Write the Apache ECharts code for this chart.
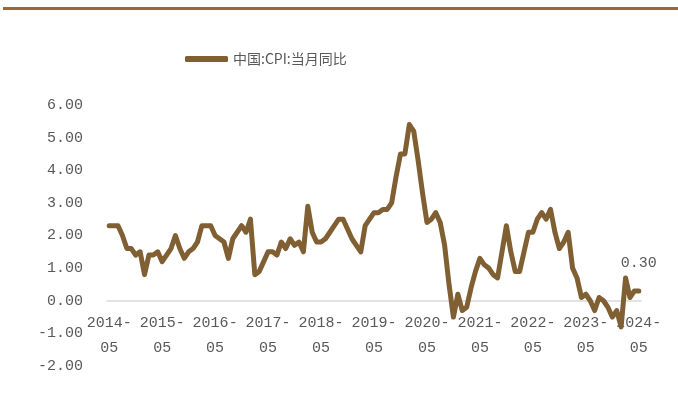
<!DOCTYPE html>
<html>
<head>
<meta charset="utf-8">
<script src="https://cdn.jsdelivr.net/npm/echarts@6/dist/echarts.min.js"></script>
<style>
html,body{margin:0;padding:0;background:#fff;}
#c{width:678px;height:410px;}
</style>
</head>
<body>
<div id="c"></div>
<script>
// Series: 中国:CPI:当月同比, monthly 2014-05 .. 2024-05
var startYear = 2014, startMonth = 5;
var cpi2014 = [2.3, 2.3, 2.3, 2.0, 1.6, 1.6, 1.4, 1.5];           // 2014-05..12
var cpi2015 = [0.8, 1.4, 1.4, 1.5, 1.2, 1.4, 1.6, 2.0, 1.6, 1.3, 1.5, 1.6];
var cpi2016 = [1.8, 2.3, 2.3, 2.3, 2.0, 1.9, 1.8, 1.3, 1.9, 2.1, 2.3, 2.1];
var cpi2017 = [2.5, 0.8, 0.9, 1.2, 1.5, 1.5, 1.4, 1.8, 1.6, 1.9, 1.7, 1.8];
var cpi2018 = [1.5, 2.9, 2.1, 1.8, 1.8, 1.9, 2.1, 2.3, 2.5, 2.5, 2.2, 1.9];
var cpi2019 = [1.7, 1.5, 2.3, 2.5, 2.7, 2.7, 2.8, 2.8, 3.0, 3.8, 4.5, 4.5];
var cpi2020 = [5.4, 5.2, 4.3, 3.3, 2.4, 2.5, 2.7, 2.4, 1.7, 0.5, -0.5, 0.2];
var cpi2021 = [-0.3, -0.2, 0.4, 0.9, 1.3, 1.1, 1.0, 0.8, 0.7, 1.5, 2.3, 1.5];
var cpi2022 = [0.9, 0.9, 1.5, 2.1, 2.1, 2.5, 2.7, 2.5, 2.8, 2.1, 1.6, 1.8];
var cpi2023 = [2.1, 1.0, 0.7, 0.1, 0.2, 0.0, -0.3, 0.1, 0.0, -0.2, -0.5, -0.3];
var cpi2024 = [-0.8, 0.7, 0.1, 0.3, 0.3];                          // 2024-01..05
var seriesName = '中国:CPI:当月同比';

var values = [].concat(cpi2014, cpi2015, cpi2016, cpi2017, cpi2018, cpi2019,
                       cpi2020, cpi2021, cpi2022, cpi2023, cpi2024);
var categories = [];
for (var i = 0; i < values.length; i++) {
  var m = startMonth - 1 + i;
  var y = startYear + Math.floor(m / 12);
  var mm = (m % 12) + 1;
  categories.push(y + '-' + (mm < 10 ? '0' + mm : '' + mm));
}

var lineColor = '#805F32';
var last = values.length - 1;
var seriesData = values.map(function (v, i) {
  if (i === last) {
    return {
      value: v,
      symbol: 'circle',
      symbolSize: 2,
      itemStyle: {color: lineColor},
      label: {
        show: true, position: 'top', distance: 19,
        formatter: function (p) { return Number(p.value).toFixed(2); },
        color: '#595959', fontSize: 15, fontFamily: 'Liberation Mono'
      }
    };
  }
  return v;
});

var chart = echarts.init(document.getElementById('c'), null, {renderer: 'canvas'});
chart.setOption({
  animation: false,
  backgroundColor: '#ffffff',
  graphic: [{
    type: 'rect', left: 3, top: 7,
    shape: {width: 675, height: 3},
    style: {fill: '#9B673A'}
  }],
  legend: {
    left: 180, top: 47,
    icon: 'roundRect', itemWidth: 43, itemHeight: 6, itemGap: 10,
    textStyle: {color: '#595959', fontSize: 14, fontFamily: 'Noto Sans CJK SC'},
    data: [seriesName]
  },
  grid: {left: 107, right: 37, top: 105, bottom: 44, containLabel: false, outerBoundsMode: 'none'},
  xAxis: {
    type: 'category',
    data: categories,
    boundaryGap: true,
    position: 'bottom',
    offset: -65.5,
    axisLine: {onZero: false, lineStyle: {color: '#D9D9D9', width: 1.5}},
    axisTick: {show: false},
    axisLabel: {
      interval: 11, margin: 10, lineHeight: 25,
      color: '#595959', fontSize: 15, fontFamily: 'Liberation Mono',
      formatter: function (v) { var p = v.split('-'); return p[0] + '-\n' + p[1]; }
    },
    splitLine: {show: false}
  },
  yAxis: {
    type: 'value', min: -2, max: 6, interval: 1,
    axisLine: {show: false}, axisTick: {show: false},
    splitLine: {show: false},
    axisLabel: {
      margin: 24, color: '#595959', fontSize: 15, fontFamily: 'Liberation Mono',
      formatter: function (v) { return v.toFixed(2); }
    }
  },
  series: [{
    name: seriesName,
    type: 'line',
    data: seriesData,
    symbol: 'none',
    showSymbol: true,
    lineStyle: {color: lineColor, width: 5, join: 'round', cap: 'round'},
    itemStyle: {color: lineColor}
  }]
});
</script>
</body>
</html>
